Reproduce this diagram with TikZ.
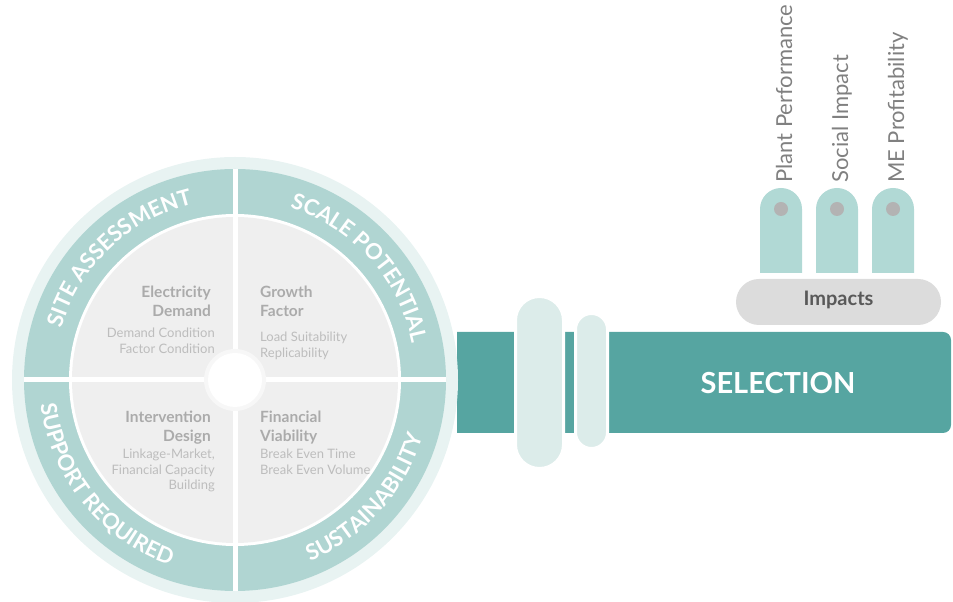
\documentclass[tikz,border=0pt]{standalone}
\usepackage{fontspec}
\setmainfont{Lato}
\usetikzlibrary{decorations.text, calc}
\definecolor{palering}{HTML}{E8F3F2}
\definecolor{ringteal}{HTML}{B0D5D2}
\definecolor{diskgray}{HTML}{EFEFEF}
\definecolor{hubring}{HTML}{F7F7F7}
\definecolor{titlegray}{HTML}{ABABAB}
\definecolor{subgray}{HTML}{BDBDBD}
\definecolor{pipeteal}{HTML}{56A5A1}
\definecolor{collarpale}{HTML}{DCECEA}
\definecolor{tubeteal}{HTML}{B1D9D5}
\definecolor{dotgray}{HTML}{B3B3B3}
\definecolor{pillgray}{HTML}{DCDCDC}
\definecolor{pilltext}{HTML}{595959}
\definecolor{labelgray}{HTML}{808080}
\newcommand{\ringfnt}{\bfseries\fontsize{22}{24}\selectfont}
\newcommand{\headfnt}{\bfseries\fontsize{15.5}{18.3}\selectfont}
\newcommand{\detailfnt}{\fontsize{13}{15.5}\selectfont}
\newcommand{\tagfnt}{\fontsize{22}{24}\selectfont}
\newcommand{\selfnt}{\bfseries\fontsize{29}{32}\selectfont}
\newcommand{\impfnt}{\bfseries\fontsize{20}{22}\selectfont}
\tikzset{
  ringtext/.style={decorate, decoration={text along path, text={|\ringfnt|#1},
                   text align=center, text color=white}},
  headtext/.style={inner sep=0, font=\headfnt, text=titlegray},
  detailtext/.style={inner sep=0, font=\detailfnt, text=subgray},
  divider/.style={white, line width=5pt},
  sidelabel/.style={rotate=90, anchor=base west, inner sep=0, text=labelgray, font=\tagfnt}
}
\begin{document}
\begin{tikzpicture}[x=1pt, y=1pt]
  \useasboundingbox (0,0) rectangle (953,602);
  \coordinate (c) at (235,222);
  % pipe and collars
  \begin{scope}
    \clip (457,0) rectangle (953,602);
    \fill[pipeteal, rounded corners=8] (420,169) rectangle (951,270);
  \end{scope}
  \filldraw[fill=collarpale, draw=white, line width=3pt, rounded corners=24]
    (515.5,133.5) rectangle (563.5,305.5);
  \filldraw[fill=collarpale, draw=white, line width=3pt, rounded corners=16]
    (575.5,153.5) rectangle (607.5,288.5);
  \node[font=\selfnt, text=white] (selection) at (778,219) {SELECTION};
  % wheel
  \fill[palering] (c) circle[radius=223];
  \fill[ringteal] (c) circle[radius=211];
  \fill[white] (c) circle[radius=166];
  \fill[diskgray] (c) circle[radius=163];
  \draw[divider] ($(c)+(-211,0)$) -- ($(c)+(211,0)$);
  \draw[divider] ($(c)+(0,-211)$) -- ($(c)+(0,211)$);
  \fill[hubring] (c) circle[radius=31];
  \fill[white] (c) circle[radius=27];
  \path[ringtext={SITE ASSESSMENT}] (c) ++(178.5:181)
    arc[start angle=178.5, end angle=88.5, radius=181];
  \path[ringtext={SCALE POTENTIAL}] (c) ++(87:181)
    arc[start angle=87, end angle=-3, radius=181];
  \path[ringtext={SUPPORT REQUIRED}] (c) ++(174:196)
    arc[start angle=174, end angle=264, radius=196];
  \path[ringtext={SUSTAINABILITY}] (c) ++(273:196)
    arc[start angle=273, end angle=363, radius=196];
  \node[headtext, anchor=north east, align=right] (elec) at (211,316) {Electricity\\Demand};
  \node[detailtext, anchor=north east, align=right] (elecsub) at (215,274)
    {Demand Condition\\Factor Condition};
  \node[headtext, anchor=north west, align=left] (growth) at (260,316) {Growth\\Factor};
  \node[detailtext, anchor=north west, align=left] (growthsub) at (260,270)
    {Load Suitability\\Replicability};
  \node[headtext, anchor=north east, align=right] (interv) at (211,191) {Intervention\\Design};
  \node[detailtext, anchor=north east, align=right] (intervsub) at (215,153)
    {Linkage-Market,\\Financial Capacity\\Building};
  \node[headtext, anchor=north west, align=left] (finance) at (260,191) {Financial\\Viability};
  \node[detailtext, anchor=north west, align=left] (financesub) at (260,153)
    {Break Even Time\\Break Even Volume};
  % impacts
  \fill[pillgray, rounded corners=23] (736,277) rectangle (941,323);
  \node[font=\impfnt, text=pilltext, anchor=base] (impacts) at (838.5,296) {Impacts};
  \foreach \cx/\name/\txt in {781/plant/Plant Performance, 837/social/Social Impact,
                              893/profit/ME Profitability} {
    \fill[tubeteal] (\cx-21,329) -- (\cx-21,393) arc[start angle=180, end angle=0, radius=21]
      -- (\cx+21,329) -- cycle;
    \fill[dotgray] (\cx,393) circle[radius=7];
    \node[sidelabel] (\name) at (\cx+11,419) {\txt};
  }
\end{tikzpicture}
\end{document}
